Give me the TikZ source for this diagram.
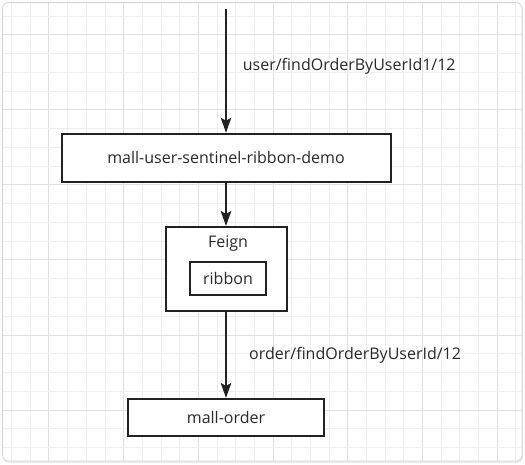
\documentclass[tikz,border=0pt]{standalone}
\usepackage{fontspec}
\setmainfont{Open Sans}
\usetikzlibrary{arrows.meta}
\definecolor{gridminor}{HTML}{EFEFEF}
\definecolor{gridmajor}{HTML}{E0E0E0}
\definecolor{frame}{HTML}{D6D6D6}
\definecolor{ink}{HTML}{222222}
\definecolor{txt}{HTML}{2A2A2A}
\tikzset{
  box/.style={draw=ink, line width=2pt, fill=white, inner sep=0pt, font=\fontsize{16}{19}\selectfont, text=txt},
  lbl/.style={inner sep=0pt, anchor=west, font=\fontsize{16}{19}\selectfont, text=txt},
  flow/.style={draw=ink, line width=2pt, -{Stealth[length=15pt,width=10.5pt,inset=3pt]}},
}
\begin{document}
\begin{tikzpicture}[x=1pt,y=-1pt]
\useasboundingbox (0,0) rectangle (525,465);
% frame
\fill[black!8, rounded corners=6pt] (3,4) rectangle (523,463);
\fill[white, rounded corners=6pt] (2.5,2.5) rectangle (522,461);
\begin{scope}
\clip[rounded corners=6pt] (2.5,2.5) rectangle (522,461);
\foreach \i in {0,...,27} {
  \pgfmathsetmacro{\xx}{11.6+18.68*\i}
  \pgfmathtruncatemacro{\mm}{mod(\i+2,4)}
  \ifnum\mm=0
    \draw[gridmajor, line width=1pt] (\xx,0) -- (\xx,465);
  \else
    \draw[gridminor, line width=1pt] (\xx,0) -- (\xx,465);
  \fi
}
\foreach \j in {0,...,25} {
  \pgfmathsetmacro{\yy}{16.25+18.75*\j}
  \pgfmathtruncatemacro{\mm}{mod(\j+3,4)}
  \ifnum\mm=0
    \draw[gridmajor, line width=1pt] (0,\yy) -- (525,\yy);
  \else
    \draw[gridminor, line width=1pt] (0,\yy) -- (525,\yy);
  \fi
}
\end{scope}
\draw[frame, line width=0.8pt, rounded corners=6pt] (2.5,2.5) rectangle (522,461);

% nodes
\coordinate (top) at (226,9);
\node[box, minimum width=329pt, minimum height=48.5pt] (svc) at (226,158) {mall-user-sentinel-ribbon-demo};
\node[box, minimum width=121pt, minimum height=84pt] (feign) at (226,269) {};
\node[inner sep=0pt, font=\fontsize{16}{19}\selectfont, text=txt] (feignlbl) at (228,243.5) {Feign};
\node[box, minimum width=75.5pt, minimum height=33.5pt] (ribbon) at (228,278.5) {ribbon};
\node[box, minimum width=196pt, minimum height=36.7pt] (order) at (226,417.3) {mall-order};
\node[lbl] (l1) at (242.7,66.7) {user/findOrderByUserId1/12};
\node[lbl] (l2) at (249,355) {order/findOrderByUserId/12};

% connectors
\draw[flow] (top) -- (svc.north);
\draw[flow] (svc.south) -- (feign.north);
\draw[flow] (feign.south) -- (order.north);
\end{tikzpicture}
\end{document}
